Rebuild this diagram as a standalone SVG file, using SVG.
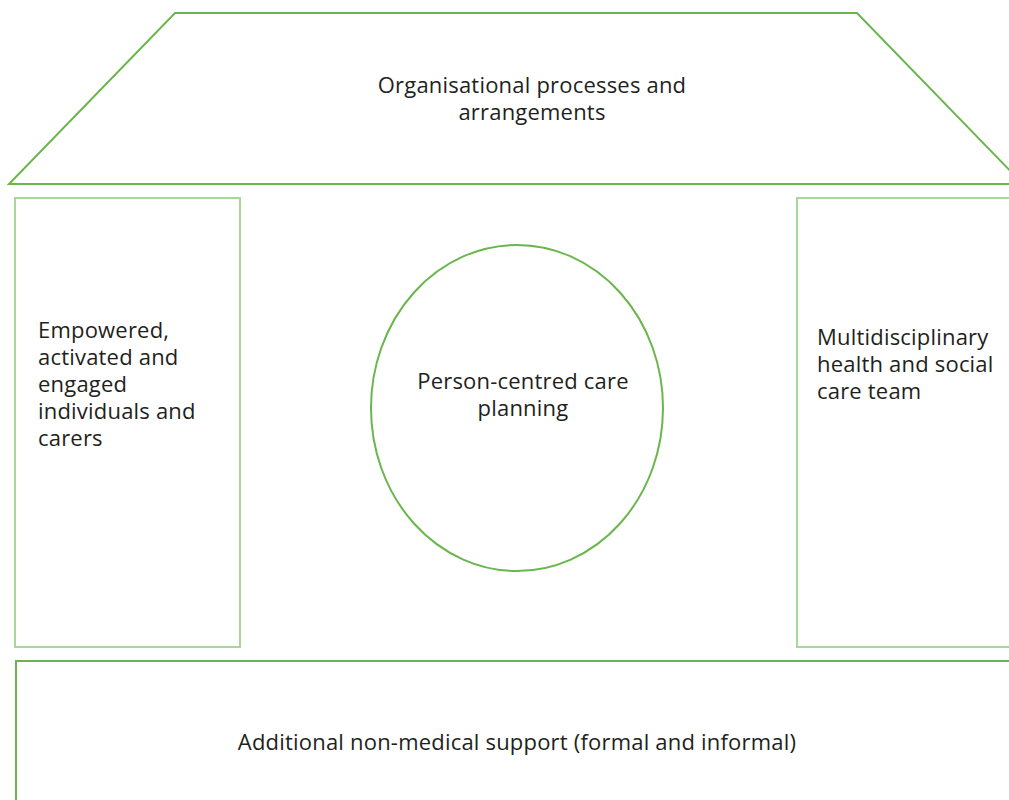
<svg xmlns="http://www.w3.org/2000/svg" width="1009" height="800" viewBox="0 0 1009 800">
<style>
.main{fill:#fff;stroke:#6ab64c;stroke-width:2}
.side{fill:#fff;stroke:#a9d69a;stroke-width:2}
text{font-family:"Open Sans","Liberation Sans",sans-serif;font-size:22px;fill:#231f20;letter-spacing:0.2px}
.c{text-anchor:middle}
</style>
<rect width="1009" height="800" fill="#fff"/>
<g id="roof">
<polygon class="main" points="175,13 857,13 1023,184 9,184"/>
<text class="c" x="532" y="93">Organisational processes and</text>
<text class="c" x="532" y="120">arrangements</text>
</g>
<g id="left">
<rect class="side" x="15" y="198" width="225" height="449"/>
<text x="38" y="338">Empowered,</text>
<text x="38" y="365">activated and</text>
<text x="38" y="392">engaged</text>
<text x="38" y="419">individuals and</text>
<text x="38" y="446">carers</text>
</g>
<g id="right">
<rect class="side" x="797" y="198" width="230" height="449"/>
<text x="817" y="345">Multidisciplinary</text>
<text x="817" y="372">health and social</text>
<text x="817" y="399">care team</text>
</g>
<g id="centre">
<ellipse class="main" cx="517" cy="408" rx="146" ry="163"/>
<text class="c" x="523" y="389">Person-centred care</text>
<text class="c" x="523" y="416">planning</text>
</g>
<g id="base">
<rect class="main" x="16" y="661" width="1010" height="160"/>
<text class="c" x="517" y="750">Additional non-medical support (formal and informal)</text>
</g>
<g id="connectors"></g>
</svg>
